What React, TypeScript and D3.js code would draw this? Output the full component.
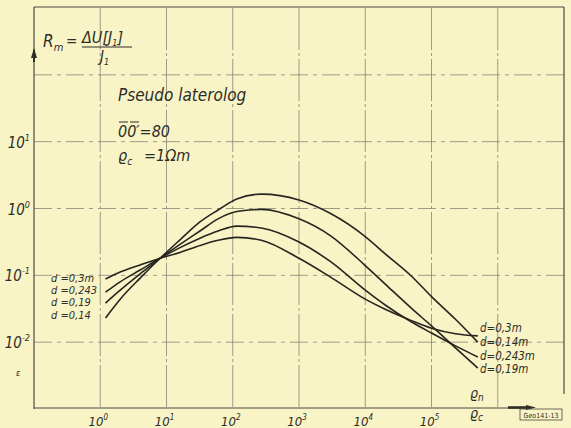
import { useEffect, useRef } from 'react'
import * as d3 from 'd3'

// ρn/ρc sample points shared by all four curves
const RHO_RATIO = [1.2, 2, 4, 8, 16, 32, 60, 115, 270, 1000, 3000, 1e4, 2e4, 5e4, 1e5, 2.3e5, 5e5]

// Rm, one array per curve
const R_D014 = [0.023, 0.044, 0.091, 0.18, 0.34, 0.63, 0.95, 1.39, 1.64, 1.34, 0.84, 0.38, 0.21, 0.097, 0.048, 0.022, 0.010]
const R_D019 = [0.0385, 0.06, 0.105, 0.18, 0.29, 0.46, 0.7, 0.9, 0.97, 0.7, 0.39, 0.14, 0.074, 0.032, 0.0175, 0.0082, 0.0041]
const R_D0243 = [0.056, 0.08, 0.12, 0.18, 0.26, 0.36, 0.46, 0.545, 0.51, 0.315, 0.16, 0.06, 0.036, 0.02, 0.0137, 0.0088, 0.006]
const R_D03 = [0.088, 0.112, 0.143, 0.18, 0.22, 0.28, 0.335, 0.37, 0.335, 0.18, 0.094, 0.044, 0.031, 0.021, 0.0162, 0.0134, 0.0124]

const SERIES = [R_D014, R_D019, R_D0243, R_D03]

const X_TICKS = [1e0, 1e1, 1e2, 1e3, 1e4, 1e5]
const X_TICK_EXP = ['0', '1', '2', '3', '4', '5']
const Y_TICKS = [1e-2, 1e-1, 1e0, 1e1]
const Y_TICK_EXP = ['-2', '-1', '0', '1']
const X_GRID = [1e0, 1e1, 1e2, 1e3, 1e4, 1e5, 1e6]
const Y_GRID = [1e-2, 1e-1, 1e0, 1e1, 1e2]

const LEFT_LABELS = ['d =0,3m', 'd =0,243', 'd =0,19', 'd =0,14']
const RIGHT_LABELS = ['d=0,3m', 'd=0,14m', 'd=0,243m', 'd=0,19m']

const W = 571
const H = 428
const INK = '#2e2d28'
const FONT = '"DejaVu Sans Condensed", "DejaVu Sans", sans-serif'

export default function App() {
  const ref = useRef<SVGSVGElement>(null)

  useEffect(() => {
    if (!ref.current) return
    const svg = d3.select(ref.current)
    svg.selectAll('*').remove()

    const x = d3.scaleLog().domain([1e-1, 1e7]).range([34, 564])
    const y = d3.scaleLog().domain([1e-3, 1e3]).range([409, 8])

    svg.append('rect').attr('width', W).attr('height', H).attr('fill', '#f8f4c6')

    // grid
    const grid = svg.append('g').attr('stroke', '#86847a').attr('stroke-width', 0.8)
    X_GRID.forEach(v => {
      grid.append('line')
        .attr('x1', x(v)).attr('x2', x(v))
        .attr('y1', 8).attr('y2', 409)
        .attr('stroke-dasharray', '42,3,3,3')
    })
    Y_GRID.forEach(v => {
      grid.append('line')
        .attr('x1', 34).attr('x2', 564)
        .attr('y1', y(v)).attr('y2', y(v))
        .attr('stroke-dasharray', '18,5,4,5')
    })

    // frame / axes
    const frame = svg.append('g').attr('stroke', '#4a4941').attr('stroke-width', 1.2).attr('fill', 'none')
    frame.append('line').attr('x1', 34).attr('x2', 34).attr('y1', 7).attr('y2', 409)
    frame.append('line').attr('x1', 34).attr('x2', 564).attr('y1', 7).attr('y2', 7)
    frame.append('line').attr('x1', 564).attr('x2', 564).attr('y1', 7).attr('y2', 394)
    frame.append('line').attr('x1', 34).attr('x2', 532).attr('y1', 408).attr('y2', 408)

    // axis arrows
    svg.append('line').attr('x1', 34).attr('x2', 34).attr('y1', 50).attr('y2', 62)
      .attr('stroke', INK).attr('stroke-width', 2)
    svg.append('path').attr('d', 'M31,58 L34,48 L37,58 Z').attr('fill', INK)
    svg.append('line').attr('x1', 508).attr('x2', 528).attr('y1', 407.5).attr('y2', 407.5)
      .attr('stroke', INK).attr('stroke-width', 2.6)
    svg.append('path').attr('d', 'M526,405 L536,407.5 L526,410 Z').attr('fill', INK)

    // curves
    const line = d3.line<[number, number]>()
      .x(d => x(d[0]))
      .y(d => y(d[1]))
      .curve(d3.curveMonotoneX)

    SERIES.forEach(vals => {
      svg.append('path')
        .datum(RHO_RATIO.map((r, i) => [r, vals[i]] as [number, number]))
        .attr('fill', 'none')
        .attr('stroke', '#26251f')
        .attr('stroke-width', 1.6)
        .attr('d', line)
    })

    const txt = svg.append('g')
      .attr('fill', INK)
      .attr('font-family', FONT)
      .attr('font-style', 'italic')

    // y tick labels
    Y_TICKS.forEach((v, i) => {
      const t = txt.append('text')
        .attr('x', 30).attr('y', y(v) + 6)
        .attr('text-anchor', 'end')
        .attr('font-size', 15)
      t.append('tspan').text('10')
      t.append('tspan').attr('dy', -7).attr('font-size', 9).text(Y_TICK_EXP[i])
    })

    // x tick labels
    X_TICKS.forEach((v, i) => {
      const t = txt.append('text')
        .attr('x', x(v) - 2).attr('y', 426)
        .attr('text-anchor', 'middle')
        .attr('font-size', 13)
      t.append('tspan').text('10')
      t.append('tspan').attr('dy', -6).attr('font-size', 8).text(X_TICK_EXP[i])
    })

    // stray mark on the scan
    txt.append('text').attr('x', 16).attr('y', 376).attr('font-size', 9).text('ε')

    // x axis quantity ϱn / ϱc
    const rn = txt.append('text').attr('x', 470).attr('y', 398).attr('font-size', 14)
    rn.append('tspan').text('ϱ')
    rn.append('tspan').attr('dy', 3).attr('font-size', 10).text('n')
    const rc = txt.append('text').attr('x', 470).attr('y', 418).attr('font-size', 14)
    rc.append('tspan').text('ϱ')
    rc.append('tspan').attr('dy', 3).attr('font-size', 10).text('c')

    // drawing number
    svg.append('rect').attr('x', 520).attr('y', 409).attr('width', 42).attr('height', 11)
      .attr('fill', 'none').attr('stroke', '#4a4941').attr('stroke-width', 0.8)
    svg.append('text').attr('x', 541).attr('y', 417.5).attr('text-anchor', 'middle')
      .attr('font-family', FONT).attr('font-size', 7).attr('fill', INK).text('Geo141-13')

    // formula Rm = ΔU[J1] / J1
    const rm = txt.append('text').attr('x', 43).attr('y', 47).attr('font-size', 17)
    rm.append('tspan').text('R')
    rm.append('tspan').attr('dy', 4).attr('font-size', 11).text('m')
    txt.append('text').attr('x', 66).attr('y', 46).attr('font-size', 15).text('=')
    const num = txt.append('text').attr('x', 82).attr('y', 43).attr('font-size', 16)
    num.append('tspan').text('ΔU[J')
    num.append('tspan').attr('dy', 3).attr('font-size', 9).text('1')
    num.append('tspan').attr('dy', -3).text(']')
    svg.append('line').attr('x1', 82).attr('x2', 132).attr('y1', 47).attr('y2', 47)
      .attr('stroke', INK).attr('stroke-width', 1.1)
    const den = txt.append('text').attr('x', 100).attr('y', 62).attr('font-size', 15)
    den.append('tspan').text('J')
    den.append('tspan').attr('dy', 3).attr('font-size', 9).text('1')

    // parameters block
    txt.append('text').attr('x', 118).attr('y', 101).attr('font-size', 17).text('Pseudo laterolog')
    const oo = txt.append('text').attr('x', 118).attr('y', 137).attr('font-size', 16)
    oo.append('tspan').text('00')
    oo.append('tspan').text('\u2032=80')
    svg.append('line').attr('x1', 119).attr('x2', 128).attr('y1', 122).attr('y2', 122)
      .attr('stroke', INK).attr('stroke-width', 1)
    svg.append('line').attr('x1', 130).attr('x2', 139).attr('y1', 122).attr('y2', 122)
      .attr('stroke', INK).attr('stroke-width', 1)
    const rho = txt.append('text').attr('x', 118).attr('y', 161).attr('font-size', 16)
    rho.append('tspan').text('ϱ')
    rho.append('tspan').attr('dy', 4).attr('font-size', 10).text('c')
    txt.append('text').attr('x', 144).attr('y', 161).attr('font-size', 16).text('=1Ωm')

    // curve labels
    LEFT_LABELS.forEach((s, i) => {
      txt.append('text').attr('x', 51).attr('y', [282, 294, 306, 319][i])
        .attr('font-size', 11).text(s)
    })
    RIGHT_LABELS.forEach((s, i) => {
      txt.append('text').attr('x', 480).attr('y', [332, 346, 360, 373][i])
        .attr('font-size', 11.5).text(s)
    })
  }, [])

  return (
    <svg
      ref={ref}
      width={W}
      height={H}
      style={{ position: 'absolute', left: 0, top: 0, display: 'block' }}
    />
  )
}
